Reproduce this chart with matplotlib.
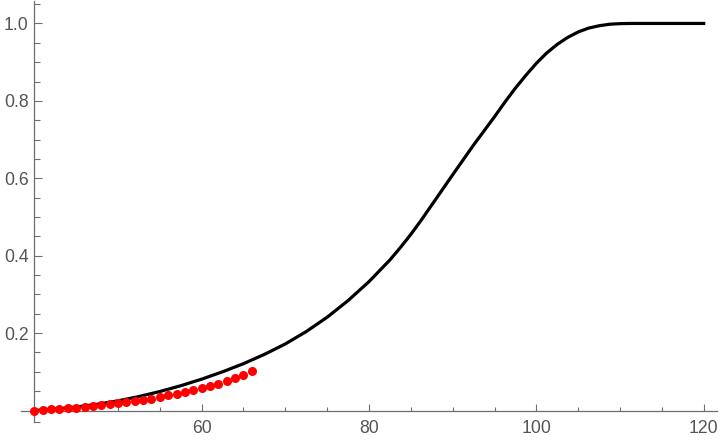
import matplotlib
matplotlib.use("Agg")
import matplotlib.pyplot as plt

# Black curve
curve_x = [40, 42.5, 45, 47.5, 50, 52.5, 55, 57.5, 60, 62.5, 65, 67.5, 70,
           72.5, 75, 77.5, 80, 82.5, 83.75, 85, 86.25, 87.5, 90, 92.5, 95,
           96.25, 97.5, 98.75, 100, 101.25, 102.5, 103.75, 105, 106.25, 107.5,
           108.75, 110, 111.25, 112.5, 115, 117.5, 120]
curve_y = [0.000, 0.004, 0.009, 0.016, 0.025, 0.036, 0.049, 0.064, 0.081, 0.100,
           0.121, 0.145, 0.172, 0.204, 0.241, 0.284, 0.333, 0.389, 0.421, 0.455,
           0.492, 0.531, 0.609, 0.686, 0.759, 0.797, 0.833, 0.866, 0.897, 0.924,
           0.946, 0.964, 0.978, 0.988, 0.994, 0.998, 0.9995, 1.000, 1.000, 1.000,
           1.000, 1.000]

# Red points
pts_x = list(range(40, 67))
pts_y = [0.000, 0.002, 0.003, 0.004, 0.006, 0.007, 0.009, 0.011, 0.013, 0.016,
         0.019, 0.021, 0.025, 0.028, 0.031, 0.035, 0.039, 0.043, 0.048, 0.053,
         0.057, 0.063, 0.068, 0.076, 0.083, 0.092, 0.102]

xticks_major = [60, 80, 100, 120]
xticks_minor = [45, 50, 55, 65, 70, 75, 85, 90, 95, 105, 110, 115]
yticks_major = [0.2, 0.4, 0.6, 0.8, 1.0]
yticks_minor = [0.05, 0.1, 0.15, 0.25, 0.3, 0.35, 0.45, 0.5, 0.55, 0.65, 0.7,
                0.75, 0.85, 0.9, 0.95, 1.05]

plt.rcParams['font.family'] = ['Liberation Sans', 'DejaVu Sans']

W, H = 720, 440
fig = plt.figure(figsize=(W / 100, H / 100), dpi=100)
left_px, right_px, top_px, bot_px = 20.7, 717, 1, 422
ax = fig.add_axes([left_px / W, (H - bot_px) / H, (right_px - left_px) / W, (bot_px - top_px) / H])

ax.plot(curve_x, curve_y, color='black', lw=2.3, solid_joinstyle='round', zorder=2)
ax.plot(pts_x, pts_y, 'o', color='#ff0000', ms=6.5, mec='none', zorder=3)

ax.set_xlim(38.375, 121.59)
ax.set_ylim(-0.0297, 1.058)

axc = '#6e6e6e'
for s in ['top', 'right']:
    ax.spines[s].set_visible(False)
ax.spines['left'].set_position(('data', 40))
ax.spines['bottom'].set_position(('data', 0))
for s in ['left', 'bottom']:
    ax.spines[s].set_color(axc)
    ax.spines[s].set_linewidth(0.9)

ax.set_xticks(xticks_major)
ax.set_xticklabels([str(v) for v in xticks_major])
ax.set_xticks(xticks_minor, minor=True)
ax.set_yticks(yticks_major)
ax.set_yticklabels([f"{v:.1f}" for v in yticks_major])
ax.set_yticks(yticks_minor + [-0.0297], minor=True)

ax.tick_params(axis='x', which='major', direction='in', length=5.3, width=0.8,
               color=axc, labelcolor='#555555', labelsize=12.7, pad=7)
ax.tick_params(axis='x', which='minor', direction='in', length=3.2, width=0.8, color=axc)
ax.tick_params(axis='y', which='major', direction='in', length=6, width=0.8,
               color=axc, labelcolor='#555555', labelsize=12.7, pad=4)
ax.tick_params(axis='y', which='minor', direction='in', length=4, width=0.8, color=axc)

fig.savefig('out.png', dpi=100)
